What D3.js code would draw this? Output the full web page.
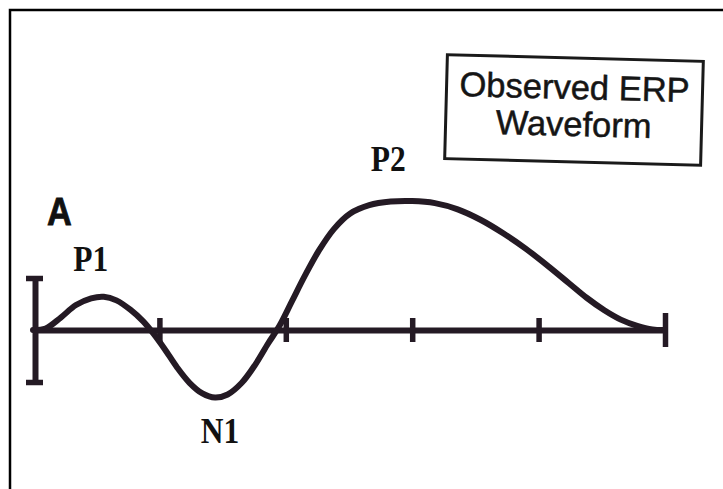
<!DOCTYPE html>
<html>
<head>
<meta charset="utf-8">
<script src="https://cdn.jsdelivr.net/npm/d3@7"></script>
<style>
  html, body { margin: 0; padding: 0; background: #ffffff; }
  svg { display: block; }
</style>
</head>
<body>
<svg id="chart" width="723" height="489"></svg>
<script>
// Observed ERP waveform: time in ms, amplitude in µV
const waveTimes  = [0, 10, 22, 34, 46, 56, 66, 77, 87, 95, 104, 114, 124, 134, 144, 154, 165, 176, 186, 195,
                    205, 215, 226, 238, 251, 266, 283, 300, 318, 336, 354, 372, 390, 408, 424, 438, 452, 465, 478, 490, 500];
const waveValues = [0, 0.15, 1.2, 2.4, 3.05, 3.2, 2.85, 1.95, 0.85, -0.3, -1.8, -3.6, -5.1, -6.1, -6.5, -6.2, -5.1, -3.3, -1.3, 0.4,
                    2.8, 5.2, 7.6, 9.7, 11.2, 12.0, 12.35, 12.4, 12.2, 11.6, 10.6, 9.3, 7.8, 6.1, 4.5, 3.1, 1.9, 1.0, 0.4, 0.05, 0];

// Named components
const peakNames  = ["P1", "N1", "P2"];
const peakTimes  = [56, 144, 300];
const peakValues = [3.2, -6.5, 12.4];

// Time ticks (ms) and calibration bar limits (µV)
const timeTicks = [100, 200, 300, 400, 500];
const calTicks  = [-5, 5];

const legendLines = ["Observed ERP", "Waveform"];
const panelLetter = "A";

const ink = "#241a24";
const svg = d3.select("#chart");

// Page frame
svg.append("path")
  .attr("d", "M10,489 L10,10 L723,10")
  .attr("fill", "none")
  .attr("stroke", "#000")
  .attr("stroke-width", 2.5);

const x = d3.scaleLinear().domain([0, 500]).range([33, 665]);
const y = d3.scaleLinear().domain([-5, 5]).range([382, 278]);

// Time axis: thick baseline with ticks crossing it
const xAxis = svg.append("g")
  .attr("transform", `translate(0,${y(0)})`)
  .call(d3.axisBottom(x).tickValues(timeTicks).tickSizeOuter(0).tickSize(0).tickFormat(""));
xAxis.select(".domain")
  .attr("stroke", ink)
  .attr("stroke-width", 6);
xAxis.selectAll(".tick line")
  .attr("stroke", ink)
  .attr("stroke-width", 5.5)
  .attr("y1", d => d === 500 ? -17 : -12)
  .attr("y2", d => d === 500 ? 17 : 12);

// Calibration bar with serifs at its ends
const yAxis = svg.append("g")
  .attr("transform", `translate(${x(0) + 2},0)`)
  .call(d3.axisLeft(y).tickValues(calTicks).tickSizeOuter(0).tickSize(0).tickFormat(""));
yAxis.select(".domain")
  .attr("stroke", ink)
  .attr("stroke-width", 6);
yAxis.selectAll(".tick line")
  .attr("stroke", ink)
  .attr("stroke-width", 5.5)
  .attr("x1", -9)
  .attr("x2", 8);

// Waveform
const wave = waveTimes.map((t, i) => [t, waveValues[i]]);
const line = d3.line()
  .x(d => x(d[0]))
  .y(d => y(d[1]))
  .curve(d3.curveCatmullRom.alpha(0.5));
svg.append("path")
  .datum(wave)
  .attr("d", line)
  .attr("fill", "none")
  .attr("stroke", ink)
  .attr("stroke-width", 6)
  .attr("stroke-linecap", "round")
  .attr("stroke-linejoin", "round");

// Component labels placed relative to their peaks
const labelOffsets = { P1: [-13, -26], N1: [5, 45], P2: [-24, -30] };
svg.append("g")
  .selectAll("text")
  .data(peakNames)
  .join("text")
  .attr("transform", (d, i) =>
    `translate(${x(peakTimes[i]) + labelOffsets[d][0]},${y(peakValues[i]) + labelOffsets[d][1]}) scale(0.9,1)`)
  .attr("text-anchor", "middle")
  .attr("font-family", "'Liberation Serif', 'Times New Roman', serif")
  .attr("font-weight", "bold")
  .attr("font-size", 35)
  .attr("fill", "#111")
  .text(d => d);

// Panel letter
svg.append("text")
  .attr("transform", "translate(47,225) scale(0.88,1)")
  .attr("font-family", "'Liberation Sans', Arial, sans-serif")
  .attr("font-weight", "bold")
  .attr("font-size", 39)
  .attr("fill", "#111")
  .attr("stroke", "#111")
  .attr("stroke-width", 0.8)
  .text(panelLetter);

// Legend box
const legend = svg.append("g")
  .attr("transform", "translate(574,110) rotate(1.5)");
legend.append("rect")
  .attr("x", -128)
  .attr("y", -52)
  .attr("width", 256)
  .attr("height", 104)
  .attr("fill", "none")
  .attr("stroke", "#1a1a1a")
  .attr("stroke-width", 3);
legend.selectAll("text")
  .data(legendLines)
  .join("text")
  .attr("x", 0)
  .attr("y", (d, i) => -11 + i * 37)
  .attr("text-anchor", "middle")
  .attr("font-family", "'Liberation Sans', Arial, sans-serif")
  .attr("font-size", 34.5)
  .attr("fill", "#151515")
  .attr("stroke", "#151515")
  .attr("stroke-width", 0.5)
  .text(d => d);
</script>
</body>
</html>
